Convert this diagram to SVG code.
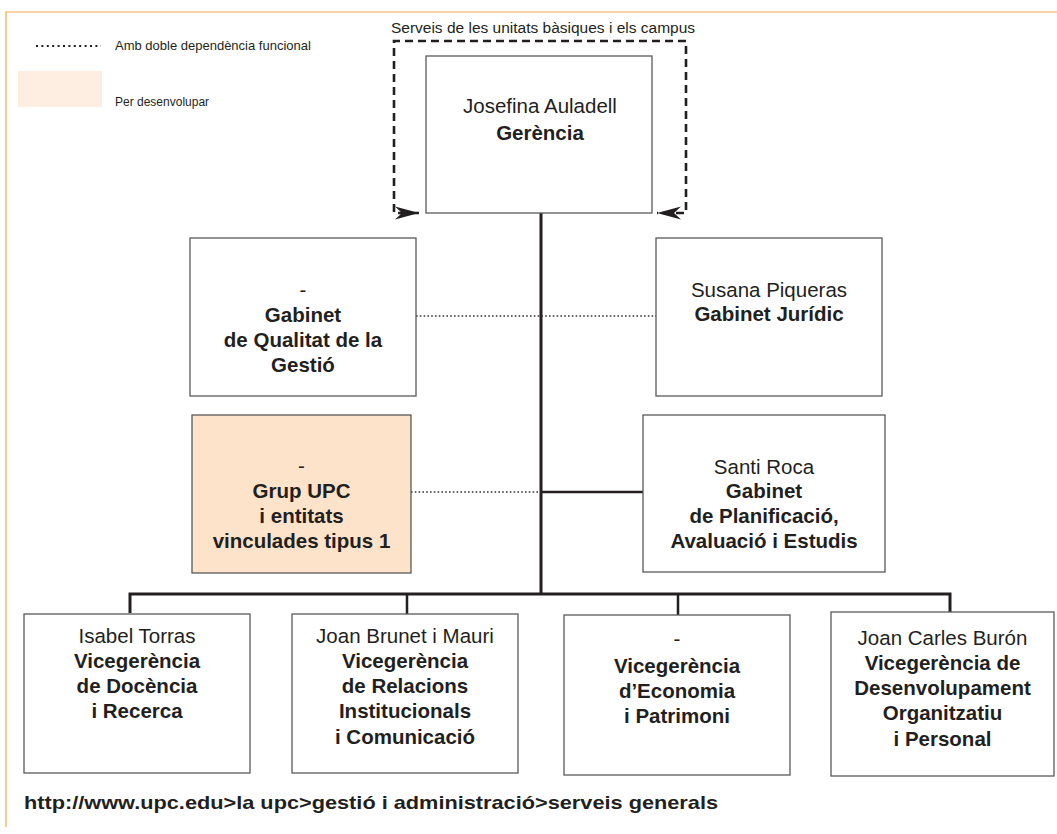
<svg xmlns="http://www.w3.org/2000/svg" width="1057" height="834" viewBox="0 0 1057 834">
<defs>
<style>
.box{fill:#ffffff;stroke:#5a5a5a;stroke-width:1.3}
.dev{fill:#fde3c9;stroke:#5a5a5a;stroke-width:1.3}
text{font-family:"Liberation Sans",Arial,sans-serif;fill:#231f20}
.t{font-size:20.5px;text-anchor:middle}
.b{font-weight:bold}
.solid{fill:none;stroke:#231f20;stroke-width:3}
.drop{fill:none;stroke:#231f20;stroke-width:2.5}
.dot{fill:none;stroke:#333333;stroke-width:1.6;stroke-dasharray:1.6 2.2}
.dash{fill:none;stroke:#231f20;stroke-width:2.6;stroke-dasharray:8 5}
.leg{font-size:13px}
</style>
<marker id="arr" markerUnits="userSpaceOnUse" viewBox="-24 -8 26 16" refX="0" refY="0" markerWidth="26" markerHeight="16" orient="auto-start-reverse">
<path d="M0,0 L-24,-6.5 L-17,0 L-24,6.5 Z" fill="#231f20" stroke="none"/>
</marker>
</defs>
<rect width="1057" height="834" fill="#ffffff"/>
<g id="frame">
<path d="M6,827 V12 H1057" fill="none" stroke="#f6a94c" stroke-width="1.2"/>
</g>
<g id="legend">
<line x1="36" y1="46" x2="101" y2="46" stroke="#231f20" stroke-width="2" stroke-dasharray="2 3.4"/>
<text x="115" y="50" class="leg">Amb doble dependència funcional</text>
<rect x="18" y="71" width="84" height="36" fill="#fdeee1"/>
<text x="115" y="106" style="font-size:12px">Per desenvolupar</text>
</g>
<g id="connectors">
<path class="solid" d="M541,213 V594"/>
<path class="solid" d="M130,613 V594 H950 V612"/>
<path class="drop" d="M407,594 V614 M678,594 V615"/>
<path class="drop" d="M541,492 H643"/>
<path class="dot" d="M416,316 H656"/>
<path class="dot" d="M411,492 H541"/>
<path class="dash" d="M419,213 H394 V41 H686 V213 H657" marker-start="url(#arr)" marker-end="url(#arr)"/>
<text x="543" y="33" style="font-size:15.5px;text-anchor:middle">Serveis de les unitats bàsiques i els campus</text>
</g>
<g id="gerencia">
<rect class="box" x="426" y="56" width="226" height="157"/>
<text class="t" x="540" y="113">Josefina Auladell</text>
<text class="t b" x="540" y="140">Gerència</text>
</g>
<g id="qualitat">
<rect class="box" x="190" y="238" width="226" height="158"/>
<text class="t" x="303" y="297">-</text>
<text class="t b" x="303" y="322">Gabinet</text>
<text class="t b" x="303" y="347">de Qualitat de la</text>
<text class="t b" x="303" y="372">Gestió</text>
</g>
<g id="juridic">
<rect class="box" x="656" y="238" width="226" height="158"/>
<text class="t" x="769" y="297">Susana Piqueras</text>
<text class="t b" x="769" y="321">Gabinet Jurídic</text>
</g>
<g id="grup-upc">
<rect class="dev" x="192" y="415" width="219" height="158"/>
<text class="t" x="301.5" y="473">-</text>
<text class="t b" x="301.5" y="498">Grup UPC</text>
<text class="t b" x="301.5" y="523">i entitats</text>
<text class="t b" x="301.5" y="548">vinculades tipus 1</text>
</g>
<g id="planificacio">
<rect class="box" x="643" y="415" width="242" height="157"/>
<text class="t" x="764" y="474">Santi Roca</text>
<text class="t b" x="764" y="498">Gabinet</text>
<text class="t b" x="764" y="523">de Planificació,</text>
<text class="t b" x="764" y="548">Avaluació i Estudis</text>
</g>
<g id="docencia">
<rect class="box" x="24" y="614" width="226" height="159"/>
<text class="t" x="137" y="643">Isabel Torras</text>
<text class="t b" x="137" y="668">Vicegerència</text>
<text class="t b" x="137" y="693">de Docència</text>
<text class="t b" x="137" y="718">i Recerca</text>
</g>
<g id="relacions">
<rect class="box" x="292" y="614" width="226" height="159"/>
<text class="t" x="405" y="643">Joan Brunet i Mauri</text>
<text class="t b" x="405" y="668">Vicegerència</text>
<text class="t b" x="405" y="693">de Relacions</text>
<text class="t b" x="405" y="718">Institucionals</text>
<text class="t b" x="405" y="744">i Comunicació</text>
</g>
<g id="economia">
<rect class="box" x="564" y="615" width="226" height="160"/>
<text class="t" x="677" y="646">-</text>
<text class="t b" x="677" y="673">Vicegerència</text>
<text class="t b" x="677" y="698">d’Economia</text>
<text class="t b" x="677" y="723">i Patrimoni</text>
</g>
<g id="desenvolupament">
<rect class="box" x="831" y="612" width="223" height="164"/>
<text class="t" x="942.5" y="645">Joan Carles Burón</text>
<text class="t b" x="942.5" y="670">Vicegerència de</text>
<text class="t b" x="942.5" y="695">Desenvolupament</text>
<text class="t b" x="942.5" y="720">Organitzatiu</text>
<text class="t b" x="942.5" y="746">i Personal</text>
</g>
<g id="url">
<text x="24" y="809" class="b" style="font-size:19px" textLength="694" lengthAdjust="spacingAndGlyphs">http://www.upc.edu&gt;la upc&gt;gestió i administració&gt;serveis generals</text>
</g>
</svg>
